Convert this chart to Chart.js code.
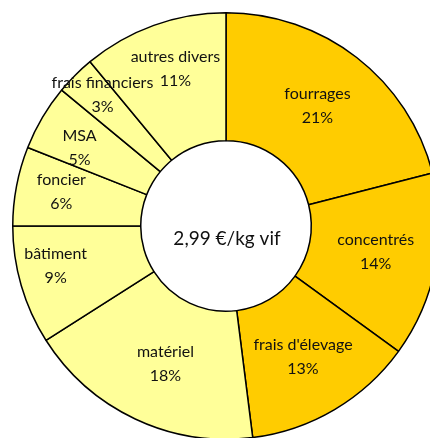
<!DOCTYPE html>
<html>
<head>
<meta charset="utf-8">
<script src="https://cdn.jsdelivr.net/npm/chart.js@4/dist/chart.umd.min.js"></script>
<style>
  html, body { margin: 0; padding: 0; background: #fff; }
  body { width: 430px; height: 438px; overflow: hidden; position: relative; }
  #wrap { position: absolute; left: 0; top: 0; width: 452px; height: 452px; }
</style>
</head>
<body>
<div id="wrap"><canvas id="c" width="452" height="452"></canvas></div>
<script>
const categories = ["fourrages", "concentrés", "frais d'élevage", "matériel", "bâtiment", "foncier", "MSA", "frais financiers", "autres divers"];
const shares = [21, 14, 13, 18, 9, 6, 5, 3, 11];
const centerText = "2,99 €/kg vif";

const DARK = '#FFCC00', LIGHT = '#FFFF99';
const colors = [DARK, DARK, DARK, LIGHT, LIGHT, LIGHT, LIGHT, LIGHT, LIGHT];
// label nudges (px) from the mid point of each ring segment
const labelNudge = [[0,-2],[3,-2],[1,2],[3,3],[-27,-2],[-18,-6],[-18,-2],[-18,-26],[0,-17]];

const labelPlugin = {
  id: 'segLabels',
  afterDatasetsDraw(chart) {
    const ctx = chart.ctx;
    const meta = chart.getDatasetMeta(0);
    ctx.save();
    ctx.fillStyle = '#111';
    ctx.textAlign = 'center';
    ctx.textBaseline = 'middle';
    ctx.font = '16px Lato';
    meta.data.forEach((arc, i) => {
      const p = arc.getProps(['x','y','startAngle','endAngle','innerRadius','outerRadius'], true);
      const mid = (p.startAngle + p.endAngle) / 2;
      const r = (p.innerRadius + p.outerRadius) / 2;
      const cx = p.x + Math.cos(mid) * r + labelNudge[i][0];
      const cy = p.y + Math.sin(mid) * r + labelNudge[i][1];
      ctx.fillText(categories[i], cx, cy - 12);
      ctx.fillText(shares[i] + '%', cx, cy + 12);
    });
    const a0 = meta.data[0];
    ctx.font = '19px Lato';
    ctx.fillText(centerText, a0.x + 1, a0.y + 13);
    ctx.restore();
  }
};

new Chart(document.getElementById('c'), {
  type: 'doughnut',
  data: {
    labels: categories,
    datasets: [{
      data: shares,
      backgroundColor: colors,
      borderColor: '#000',
      borderWidth: 1.5,
      hoverOffset: 0
    }]
  },
  options: {
    responsive: false,
    animation: false,
    cutout: '40%',
    layout: { padding: 12 },
    plugins: { legend: { display: false }, tooltip: { enabled: false } }
  },
  plugins: [labelPlugin]
});
</script>
</body>
</html>
